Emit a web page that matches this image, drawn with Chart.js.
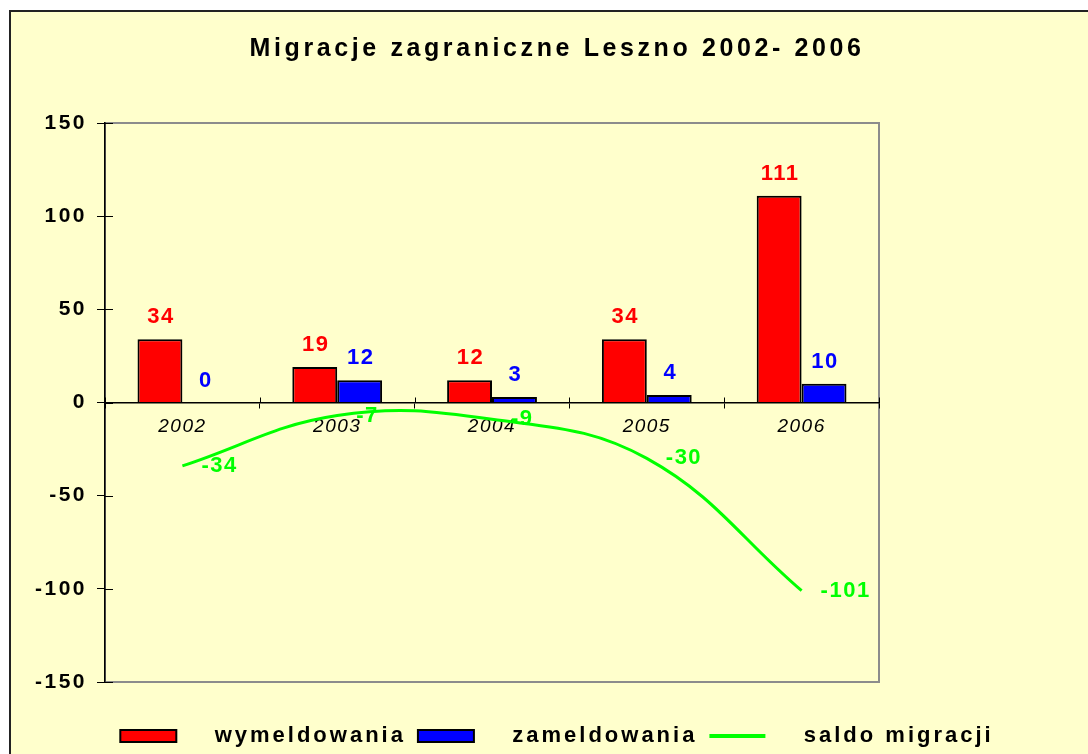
<!DOCTYPE html>
<html><head><meta charset="utf-8">
<script src="https://cdn.jsdelivr.net/npm/chart.js@4.4.1/dist/chart.umd.min.js"></script>
<style>
html,body{margin:0;padding:0;background:#fff;overflow:hidden;width:1088px;height:754px;}
#frame{position:absolute;left:9px;top:10px;width:1200px;height:800px;border-left:2px solid #222;border-top:2px solid #222;background:#FFFFCC;}
canvas{position:absolute;left:0;top:0;}
</style></head><body>
<div id="frame"><canvas id="c" width="1092" height="745"></canvas></div>
<script>
const categories = ['2002', '2003', '2004', '2005', '2006'];
const wymeldowania = [34, 19, 12, 34, 111];
const zameldowania = [0, 12, 3, 4, 10];
const saldoMigracji = [-34, -7, -9, -30, -101];
const yTicks = [-150, -100, -50, 0, 50, 100, 150];
const seriesNames = ['wymeldowania', 'zameldowania', 'saldo migracji'];
const titleText = 'Migracje zagraniczne Leszno 2002- 2006';

const FONT = "'Liberation Sans', Arial, sans-serif";
Chart.defaults.font.family = FONT;

function wrapLS(obj, name, ls) {
  if (!obj || obj['__ls_' + name]) return;
  const orig = obj[name];
  obj[name] = function (...args) {
    const c = this.ctx; const prev = c.letterSpacing;
    c.letterSpacing = ls;
    try { return orig.apply(this, args); } finally { c.letterSpacing = prev; }
  };
  obj['__ls_' + name] = true;
}
const spacingPlugin = {
  id: 'spacing',
  beforeLayout(chart) {
    wrapLS(chart.titleBlock, 'draw', '3.6px');
    wrapLS(chart.legend, 'fit', '3px');
    wrapLS(chart.legend, 'draw', '3px');
    wrapLS(chart.scales.y, 'drawLabels', '2.5px');
    wrapLS(chart.scales.x, 'drawLabels', '1.5px');
  }
};
const framePlugin = {
  id: 'frameP',
  beforeDraw(chart) {
    const { ctx, chartArea: a } = chart;
    ctx.save();
    ctx.strokeStyle = '#8c8c8c'; ctx.lineWidth = 2;
    ctx.strokeRect(a.left, a.top, a.right - a.left, a.bottom - a.top);
    ctx.restore();
  },
  beforeDatasetsDraw(chart) {
    const { ctx, chartArea: a } = chart;
    const ys = chart.scales.y, xs = chart.scales.x;
    ctx.save();
    ctx.strokeStyle = '#000'; ctx.lineWidth = 1;
    ctx.beginPath();
    ys.ticks.forEach(t => { const py = Math.round(ys.getPixelForValue(t.value)) + 0.5; ctx.moveTo(a.left, py); ctx.lineTo(a.left + 8, py); });
    const y0 = ys.getPixelForValue(0);
    for (let i = 0; i <= categories.length; i++) {
      const px = Math.round(xs.getPixelForValue(i - 0.5)) + 0.5;
      ctx.moveTo(px, y0 - 5); ctx.lineTo(px, y0);
    }
    ctx.stroke();
    ctx.restore();
  }
};
const valueLabels = {
  id: 'valueLabels',
  afterDatasetsDraw(chart) {
    const ctx = chart.ctx;
    ctx.save();
    ctx.letterSpacing = '1.5px';
    ctx.font = `bold 22px ${FONT}`;
    ctx.textBaseline = 'middle';
    chart.data.datasets.forEach((ds, di) => {
      const meta = chart.getDatasetMeta(di);
      meta.data.forEach((el, i) => {
        const v = ds.data[i];
        ctx.fillStyle = ds.labelColor;
        if (ds.type === 'line') { ctx.textAlign = 'left'; ctx.fillText(String(v), el.x + 19, el.y); }
        else { ctx.textAlign = 'center'; ctx.fillText(String(v), el.x + 1, el.y - 22); }
      });
    });
    ctx.restore();
  }
};

new Chart(document.getElementById('c'), {
  type: 'bar',
  data: {
    labels: categories,
    datasets: [
      { type: 'bar', label: seriesNames[0], data: wymeldowania, backgroundColor: '#FF0000', borderColor: '#000', borderWidth: 2, labelColor: '#FF0000', categoryPercentage: 0.58, barPercentage: 1, xAxisID: 'x', yAxisID: 'y', order: 1 },
      { type: 'bar', label: seriesNames[1], data: zameldowania, backgroundColor: '#0000FF', borderColor: '#000', borderWidth: 2, labelColor: '#0000FF', categoryPercentage: 0.58, barPercentage: 1, xAxisID: 'x', yAxisID: 'y', order: 1 },
      { type: 'line', label: seriesNames[2], data: saldoMigracji, borderColor: '#00FF00', backgroundColor: '#00FF00', borderWidth: 3, pointRadius: 0, tension: 0.4, fill: false, labelColor: '#00FF00', xAxisID: 'x', yAxisID: 'y', order: 0 }
    ]
  },
  options: {
    responsive: false,
    devicePixelRatio: 1,
    animation: false,
    layout: { padding: 0 },
    scales: {
      x: {
        type: 'category', position: { y: 0 }, offset: true,
        grid: { offset: true, drawOnChartArea: false, tickLength: 5, color: '#000' },
        border: { color: '#000', width: 1.5 },
        ticks: { font: { size: 19, style: 'italic' }, color: '#000', padding: 8, maxRotation: 0, autoSkip: false }
      },
      y: {
        position: 'left', min: -150, max: 150,
        afterBuildTicks: s => { s.ticks = yTicks.map(v => ({ value: v })); },
        afterFit: s => { s.width = 94; },
        ticks: { font: { size: 21, weight: 'bold' }, color: '#000', padding: 10 },
        grid: { drawOnChartArea: false, tickLength: 8, color: '#000' },
        border: { color: '#000', width: 1.5 }
      },
      y2: {
        position: 'right', min: 0, max: 1, display: true,
        grid: { display: false }, border: { display: false }, ticks: { display: false },
        afterFit: s => { s.width = 224; }
      },
      xpad: {
        type: 'linear', position: 'bottom', min: 0, max: 1, display: true,
        grid: { display: false }, border: { display: false }, ticks: { display: false },
        afterFit: s => { s.height = 31; }
      }
    },
    plugins: {
      title: { display: true, text: titleText, color: '#000', font: { size: 25, weight: 'bold' }, padding: { top: 22, bottom: 59 } },
      legend: {
        position: 'bottom', align: 'center',
        labels: {
          usePointStyle: true, pointStyleWidth: 56, boxHeight: 12, padding: 12, color: '#000',
          font: { size: 22, weight: 'bold' },
          generateLabels: (chart) => chart.data.datasets.map((ds, i) => ({
            text: '   ' + ds.label,
            fillStyle: ds.type === 'line' ? ds.borderColor : ds.backgroundColor,
            strokeStyle: ds.type === 'line' ? ds.borderColor : '#000',
            lineWidth: ds.type === 'line' ? 4 : 2,
            pointStyle: ds.type === 'line' ? 'line' : 'rect',
            hidden: false, datasetIndex: i, fontColor: '#000'
          }))
        }
      },
      tooltip: { enabled: false }
    }
  },
  plugins: [spacingPlugin, framePlugin, valueLabels]
});
</script>
</body></html>
